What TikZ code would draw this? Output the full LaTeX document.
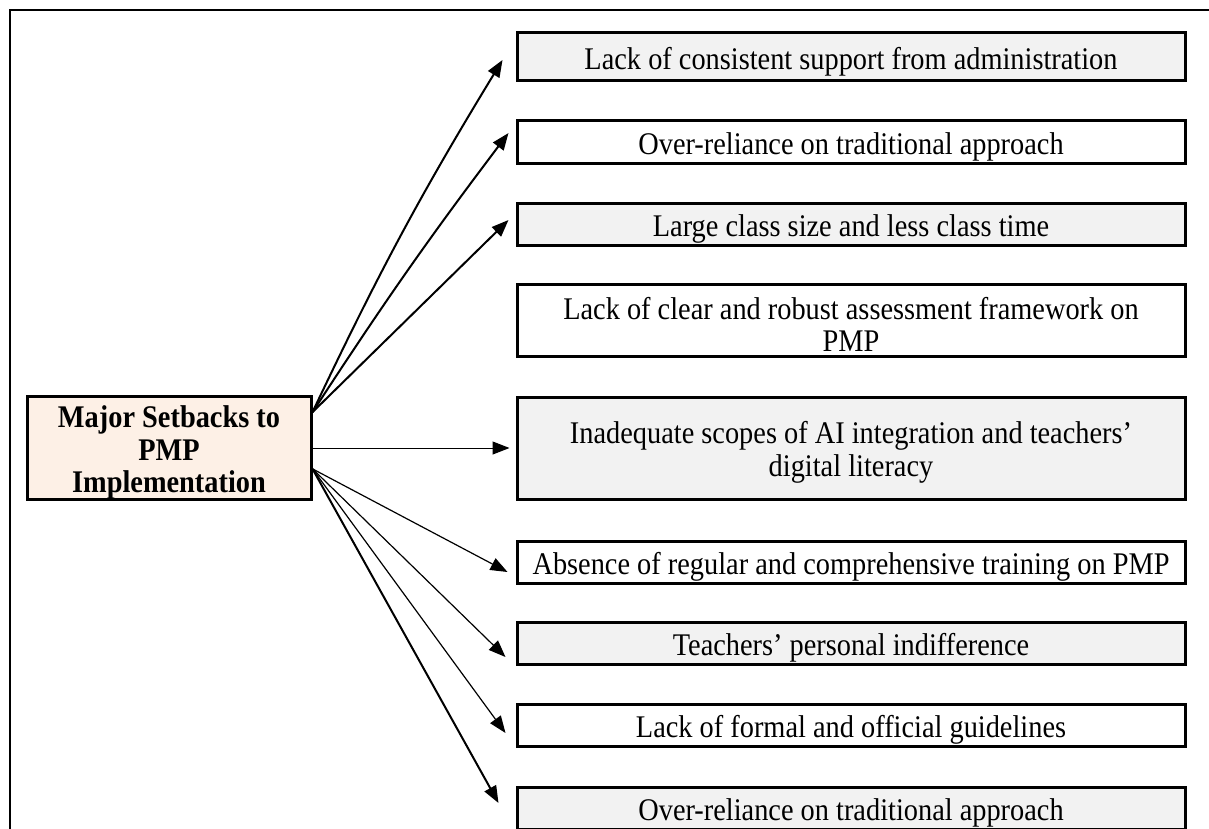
\documentclass[tikz,border=0pt]{standalone}
\usepackage{fontspec}
\setmainfont[FakeStretch=0.9]{Liberation Serif}
\usetikzlibrary{calc,positioning,arrows.meta}
\definecolor{peach}{RGB}{253,240,230}
\definecolor{boxgray}{RGB}{242,242,242}
\newcommand{\boxstrut}{\rule{0pt}{15.5pt}}
\tikzset{
	->,
	>={Triangle[length=8.5pt,width=6.5pt]},
	x=0.5pt, y=-0.5pt,
	every node/.style={font=\fontsize{15.75}{16.25}\selectfont, align=center},
	setback/.style={draw, line width=1.5pt, minimum width=334pt, minimum height=21pt, inner xsep=2pt, inner ysep=0pt},
	greybox/.style={setback, fill=boxgray},
	whitebox/.style={setback, fill=white},
	hub/.style={draw, line width=1.5pt, fill=peach, minimum width=142pt, minimum height=51pt, inner xsep=2pt, inner ysep=0pt, font=\fontsize{15.75}{16.25}\selectfont\bfseries},
	heavy/.style={line width=1pt},
	light/.style={line width=0.6pt},
}

\begin{document}
\begin{tikzpicture}
		\useasboundingbox (0,0) rectangle (1209,829);
		\draw[-, line width=0.75pt] (10,10) rectangle (1220,845);

		\node[hub] (major) at (169,448) {\boxstrut Major Setbacks to\\PMP\\Implementation};

		\node[greybox, minimum height=24pt] (b1) at (851,57) {\boxstrut Lack of consistent support from administration};
		\node[whitebox] (b2) at (851,142) {\boxstrut Over-reliance on traditional approach};
		\node[greybox] (b3) at (851,224) {\boxstrut Large class size and less class time};
		\node[whitebox, minimum height=36pt] (b4) at (851,320) {\boxstrut Lack of clear and robust assessment framework on\\PMP};
		\node[greybox, minimum height=51pt] (b5) at (851,448) {\boxstrut Inadequate scopes of AI integration and teachers’\\digital literacy};
		\node[whitebox] (b6) at (851,562) {\boxstrut Absence of regular and comprehensive training on PMP};
		\node[greybox] (b7) at (851,643) {\boxstrut Teachers’ personal indifference};
		\node[whitebox] (b8) at (851,725) {\boxstrut Lack of formal and official guidelines};
		\node[greybox] (b9) at (851,808) {\boxstrut Over-reliance on traditional approach};

		\coordinate (up) at ($(major.north east)+(0,17)$);
		\coordinate (down) at ($(major.south east)+(0,-32)$);

		\draw[heavy] (up) to[bend left=3] ($(b1.west)+(-13,3)$);
		\draw[heavy] (up) to[bend left=2] ($(b2.west)+(-7,-9)$);
		\draw[heavy] (up) -- ($(b3.west)+(-7,-4)$);
		\draw[line width=0.5pt] (major.east) -- ($(b5.west)+(-6,0)$);
		\draw[light] (down) -- ($(b6.west)+(-8,10)$);
		\draw[light] (down) -- ($(b7.west)+(-10,14)$);
		\draw[light] (down) -- ($(b8.west)+(-10,8)$);
		\draw[heavy] (down) -- ($(b9.west)+(-17,-5)$);
	\end{tikzpicture}
\end{document}
